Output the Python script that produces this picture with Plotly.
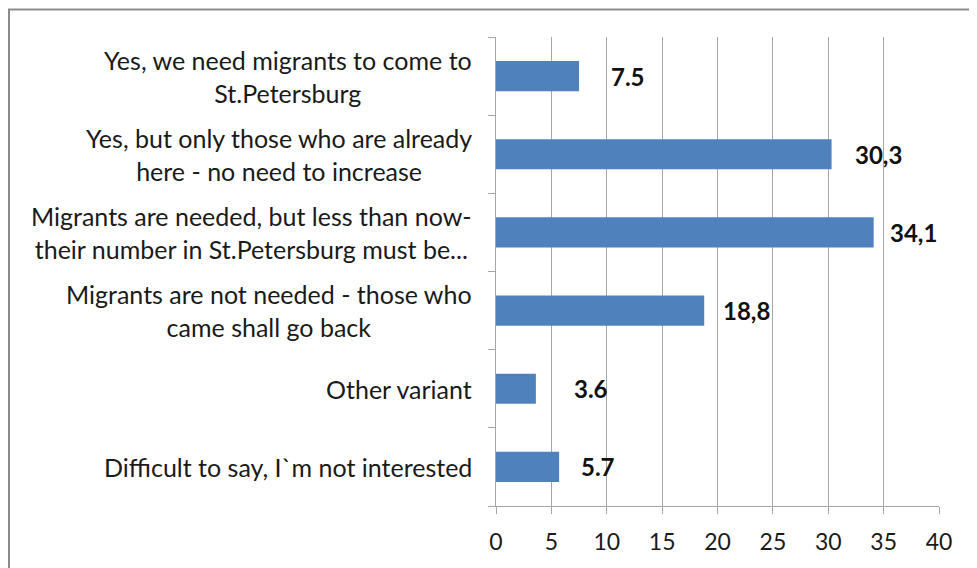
import plotly.graph_objects as go

categories = [
    "Yes, we need migrants to come to<br>St.Petersburg",
    "Yes, but only those who are already<br>here - no need to increase",
    "Migrants are needed, but less than now-<br>their number in St.Petersburg must be...",
    "Migrants are not needed - those who<br>came shall go back",
    "Other variant",
    "Difficult to say, I`m not interested",
]
values = [7.5, 30.3, 34.1, 18.8, 3.6, 5.7]
value_labels = ["7.5", "30,3", "34,1", "18,8", "3.6", "5.7"]
x_ticks = [0, 5, 10, 15, 20, 25, 30, 35, 40]

label_shifts = [30, 21, 14, 17, 36, 20]

FONT = "Lato, Open Sans, sans-serif"

# plot area in figure pixels (page body adds an 8px offset)
L, T, PW, PH = 488, 29, 443, 469

fig = go.Figure()
fig.add_trace(go.Bar(
    y=categories, x=values, orientation="h",
    marker=dict(color="#4F81BD", line=dict(width=0)),
    width=0.385,
    hoverinfo="skip",
))

for c, v, t, s in zip(categories, values, value_labels, label_shifts):
    fig.add_annotation(x=v, y=c, xref="x", yref="y", text="<b>" + t + "</b>",
                       showarrow=False, xanchor="left", xshift=s,
                       font=dict(family=FONT, size=24, color="#111111"))
    fig.add_annotation(x=0, y=c, xref="paper", yref="y", text=c,
                       showarrow=False, xanchor="right", align="center",
                       xshift=-22,
                       font=dict(family=FONT, size=25, color="#1a1a1a"))

# outer border
fig.add_shape(type="rect", xref="paper", yref="paper",
              x0=(1 - L) / PW, x1=(1000 - L) / PW,
              y0=-(600 - T - PH) / PH, y1=(T + PH - 1.5) / PH,
              line=dict(color="#8c8c8c", width=2), fillcolor="rgba(0,0,0,0)")

fig.update_layout(
    width=977, height=568,
    margin=dict(l=L, r=977 - L - PW, t=T, b=568 - T - PH),
    paper_bgcolor="white", plot_bgcolor="white",
    showlegend=False,
    font=dict(family=FONT, size=23, color="#1a1a1a"),
)
fig.update_xaxes(
    range=[0, 40], tickvals=x_ticks, ticktext=[str(t) for t in x_ticks],
    showgrid=True, gridcolor="#A6A6A6", gridwidth=1,
    showline=True, linecolor="#A6A6A6", linewidth=1,
    ticks="outside", ticklen=7, tickcolor="#A6A6A6",
    ticklabelstandoff=8,
    tickfont=dict(family=FONT, size=23, color="#1a1a1a"),
    zeroline=False, fixedrange=True,
)
fig.update_yaxes(
    categoryorder="array", categoryarray=categories[::-1],
    showticklabels=False,
    showline=True, linecolor="#A6A6A6", linewidth=1,
    ticks="outside", tickson="boundaries", ticklen=7, tickcolor="#A6A6A6",
    showgrid=False, zeroline=False, fixedrange=True,
)

fig.write_html("out.html")
